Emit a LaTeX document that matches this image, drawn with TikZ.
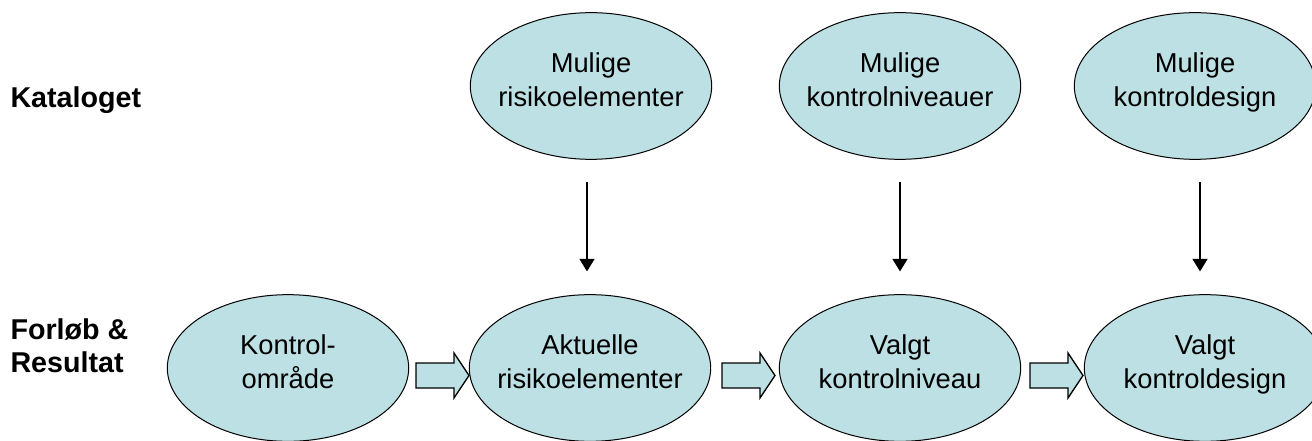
\documentclass[tikz,border=0pt]{standalone}
\usepackage{fontspec}
\setmainfont{Liberation Sans}
\usetikzlibrary{shapes.geometric,arrows.meta}

\definecolor{ovalfill}{RGB}{188,224,228}

\newcommand{\liftup}{\rule[-9pt]{0pt}{0pt}}

\tikzset{every picture/.style={line width=0.75pt}}
\tikzset{
  oval/.style={ellipse,draw=black,fill=ovalfill,minimum width=181pt,minimum height=110pt,
    inner xsep=-12pt,inner ysep=0pt,align=center,font=\fontsize{20.5}{25.5}\selectfont},
  rowlabel/.style={anchor=west,inner sep=0pt,align=left,font=\fontsize{21.5}{24.5}\selectfont\bfseries},
  downarrow/.style={-{Triangle[width=11pt,length=9.5pt]},line width=2pt,shorten <=17pt,shorten >=17pt},
  blockarrow/.style={draw=black,fill=ovalfill,line width=1pt}
}

\begin{document}
\begin{tikzpicture}[x=0.75pt,y=0.75pt,yscale=-1,xscale=1]
    \useasboundingbox (0,0) rectangle (1312,441);
    % Row labels
    \node[rowlabel] (katalog) at (10,100) {Kataloget};
    \node[rowlabel] (forloeb) at (10,346) {Forløb \&\\Resultat};
    % Catalogue ovals
    \node[oval] (muligrisiko) at (591,86) {Mulige\\risikoelementer\liftup};
    \node[oval] (muligniveau) at (900,86) {Mulige\\kontrolniveauer\liftup};
    \node[oval] (muligdesign) at (1195,86) {Mulige\\kontroldesign\liftup};
    % Process ovals
    \node[oval] (omraade) at (288,368) {Kontrol-\\område\liftup};
    \node[oval] (aktrisiko) at (590,368) {Aktuelle\\risikoelementer\liftup};
    \node[oval] (valgtniveau) at (900,368) {Valgt\\kontrolniveau\liftup};
    \node[oval] (valgtdesign) at (1205,368) {Valgt\\kontroldesign\liftup};
    % Down arrows
    \draw[downarrow] ([xshift=-3pt]muligrisiko.south) -- ([xshift=-3pt]muligrisiko.south |- aktrisiko.north);
    \draw[downarrow] (muligniveau) -- (valgtniveau);
    \draw[downarrow] ([xshift=3.75pt]muligdesign.south) -- ([xshift=3.75pt]muligdesign.south |- valgtdesign.north);
    % Block arrows
    \foreach \bx in {416,722,1030}
      \draw[blockarrow] (\bx,363) -- ++(38,0) -- ++(0,-10) -- ++(15,22.5) -- ++(-15,22.5) -- ++(0,-10) -- ++(-38,0) -- cycle;
\end{tikzpicture}
\end{document}
